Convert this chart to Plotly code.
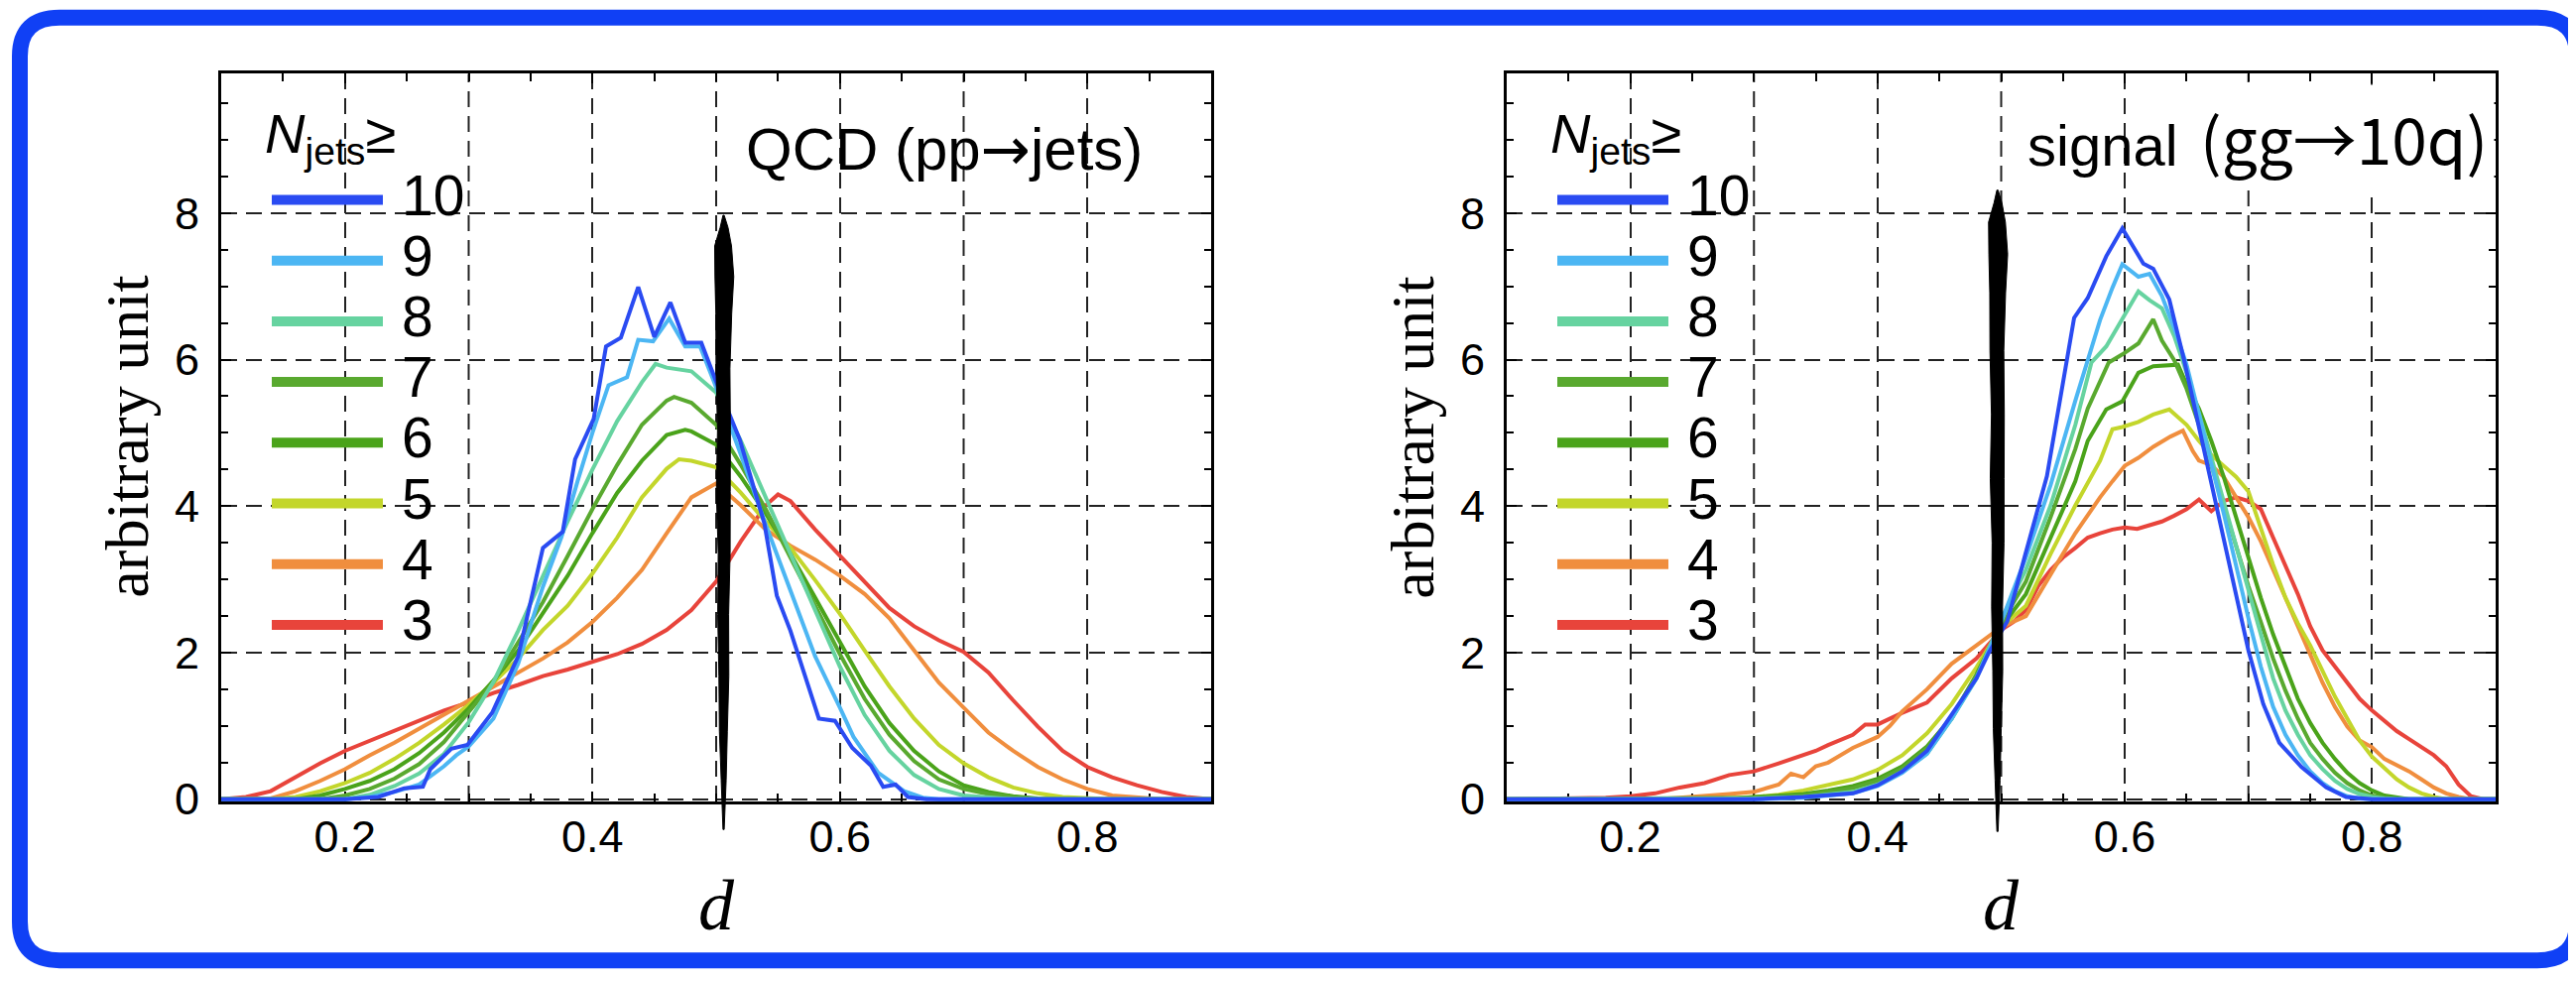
import plotly.graph_objects as go

# ---------------- data ----------------
N_JETS = [10, 9, 8, 7, 6, 5, 4, 3]
LINE_COLORS = ["#2A4BF2", "#4CB6F3", "#66D3A0", "#59A92F", "#4AA31A", "#C3D62B", "#F08E3E", "#E8443B"]

# QCD (pp -> jets)
QCD_X10 = [0.10, 0.20, 0.227, 0.248, 0.263, 0.269, 0.286, 0.299, 0.319, 0.34, 0.36, 0.376, 0.386, 0.401, 0.411, 0.423,
           0.437, 0.45, 0.463, 0.475, 0.488, 0.50, 0.519, 0.539, 0.549, 0.56, 0.583, 0.596, 0.61, 0.625, 0.635, 0.645,
           0.655, 0.67, 0.90]
QCD_Y10 = [0, 0, 0.03, 0.15, 0.17, 0.41, 0.69, 0.74, 1.18, 1.95, 3.43, 3.65, 4.64, 5.19, 6.18, 6.30,
           6.99, 6.31, 6.78, 6.23, 6.23, 5.70, 4.91, 3.76, 2.78, 2.30, 1.10, 1.07, 0.70, 0.46, 0.17, 0.20,
           0.03, 0, 0]
QCD_X9 = [0.10, 0.20, 0.22, 0.24, 0.26, 0.28, 0.29, 0.30, 0.32, 0.34, 0.36, 0.375, 0.388, 0.40, 0.413, 0.428, 0.437,
          0.449, 0.462, 0.475, 0.487, 0.498, 0.52, 0.54, 0.56, 0.58, 0.60, 0.611, 0.631, 0.652, 0.667, 0.68, 0.90]
QCD_Y9 = [0, 0, 0.03, 0.10, 0.20, 0.45, 0.60, 0.72, 1.10, 1.85, 2.90, 3.58, 4.34, 5.00, 5.65, 5.76, 6.27,
          6.25, 6.56, 6.18, 6.18, 5.71, 4.70, 3.75, 2.85, 1.95, 1.25, 0.85, 0.36, 0.11, 0.02, 0, 0]
QCD_X8 = [0.10, 0.12, 0.14, 0.16, 0.18, 0.20, 0.22, 0.24, 0.26, 0.28, 0.30, 0.32, 0.34, 0.36, 0.38, 0.40, 0.42, 0.44,
          0.451, 0.46, 0.48, 0.50, 0.52, 0.54, 0.56, 0.58, 0.60, 0.62, 0.64, 0.66, 0.68, 0.70, 0.72, 0.74, 0.76,
          0.78, 0.80, 0.82, 0.84, 0.86, 0.88, 0.90]
QCD_Y8 = [0, 0, 0, 0, 0, 0, 0.06, 0.18, 0.35, 0.62, 1.05, 1.60, 2.30, 3.05, 3.79, 4.50, 5.16, 5.69,
          5.94, 5.89, 5.84, 5.55, 4.89, 4.12, 3.35, 2.58, 1.81, 1.15, 0.66, 0.33, 0.14, 0.05, 0.02, 0, 0,
          0, 0, 0, 0, 0, 0, 0]
QCD_X7 = [0.10, 0.12, 0.14, 0.16, 0.18, 0.20, 0.22, 0.24, 0.26, 0.28, 0.30, 0.32, 0.34, 0.36, 0.38, 0.40, 0.42, 0.44,
          0.46, 0.466, 0.48, 0.50, 0.52, 0.54, 0.56, 0.58, 0.60, 0.62, 0.64, 0.66, 0.68, 0.70, 0.72, 0.74, 0.76,
          0.78, 0.80, 0.82, 0.84, 0.86, 0.88, 0.90]
QCD_Y7 = [0, 0, 0, 0, 0, 0.05, 0.14, 0.28, 0.48, 0.78, 1.18, 1.60, 2.14, 2.69, 3.32, 3.96, 4.56, 5.11,
          5.44, 5.49, 5.41, 5.11, 4.56, 3.96, 3.30, 2.64, 1.98, 1.37, 0.88, 0.52, 0.27, 0.14, 0.07, 0.03, 0,
          0, 0, 0, 0, 0, 0, 0]
QCD_X6 = [0.10, 0.12, 0.14, 0.16, 0.18, 0.20, 0.22, 0.24, 0.26, 0.28, 0.30, 0.32, 0.34, 0.36, 0.38, 0.40, 0.42, 0.44,
          0.46, 0.475, 0.48, 0.50, 0.52, 0.54, 0.56, 0.58, 0.60, 0.62, 0.64, 0.66, 0.68, 0.70, 0.72, 0.74, 0.76,
          0.78, 0.80, 0.82, 0.84, 0.86, 0.88, 0.90]
QCD_Y6 = [0, 0, 0, 0, 0.05, 0.14, 0.25, 0.41, 0.63, 0.91, 1.24, 1.62, 2.03, 2.53, 3.05, 3.63, 4.18, 4.62,
          4.97, 5.04, 5.02, 4.84, 4.40, 3.90, 3.35, 2.75, 2.14, 1.54, 1.04, 0.66, 0.38, 0.19, 0.10, 0.04, 0.01,
          0, 0, 0, 0, 0, 0, 0]
QCD_X5 = [0.10, 0.12, 0.14, 0.16, 0.18, 0.20, 0.22, 0.24, 0.26, 0.28, 0.30, 0.32, 0.34, 0.36, 0.38, 0.40, 0.42, 0.44,
          0.46, 0.47, 0.48, 0.50, 0.52, 0.54, 0.56, 0.58, 0.60, 0.62, 0.64, 0.66, 0.68, 0.70, 0.72, 0.74, 0.76,
          0.78, 0.80, 0.82, 0.84, 0.86, 0.88, 0.90]
QCD_Y5 = [0, 0, 0, 0.03, 0.11, 0.22, 0.36, 0.55, 0.77, 1.02, 1.29, 1.59, 1.92, 2.31, 2.64, 3.08, 3.57, 4.12,
          4.51, 4.64, 4.62, 4.53, 4.18, 3.79, 3.43, 2.99, 2.53, 2.03, 1.54, 1.10, 0.74, 0.49, 0.30, 0.16, 0.08,
          0.03, 0.01, 0, 0, 0, 0, 0]
QCD_X4 = [0.10, 0.12, 0.14, 0.16, 0.18, 0.20, 0.22, 0.24, 0.26, 0.28, 0.30, 0.32, 0.34, 0.36, 0.38, 0.40, 0.42, 0.44,
          0.46, 0.48, 0.50, 0.52, 0.54, 0.56, 0.58, 0.60, 0.62, 0.64, 0.66, 0.68, 0.70, 0.72, 0.74, 0.76, 0.78,
          0.80, 0.82, 0.84, 0.86, 0.88, 0.90]
QCD_Y4 = [0, 0, 0.01, 0.11, 0.25, 0.41, 0.60, 0.77, 0.96, 1.15, 1.35, 1.54, 1.73, 1.92, 2.14, 2.42, 2.75, 3.13,
          3.63, 4.12, 4.31, 4.01, 3.68, 3.46, 3.27, 3.05, 2.80, 2.47, 2.03, 1.59, 1.25, 0.91, 0.66, 0.44, 0.27,
          0.14, 0.05, 0.02, 0, 0, 0]
QCD_X3 = [0.10, 0.12, 0.14, 0.16, 0.18, 0.20, 0.22, 0.24, 0.26, 0.28, 0.30, 0.32, 0.34, 0.36, 0.38, 0.40, 0.42, 0.44,
          0.46, 0.48, 0.50, 0.52, 0.54, 0.55, 0.56, 0.58, 0.60, 0.62, 0.64, 0.66, 0.68, 0.70, 0.72, 0.74, 0.76,
          0.78, 0.80, 0.82, 0.84, 0.86, 0.88, 0.90]
QCD_Y3 = [0, 0.03, 0.11, 0.30, 0.49, 0.66, 0.80, 0.93, 1.07, 1.21, 1.32, 1.45, 1.56, 1.68, 1.77, 1.87, 1.98, 2.12,
          2.31, 2.58, 2.97, 3.52, 4.01, 4.16, 4.07, 3.68, 3.32, 2.97, 2.61, 2.36, 2.17, 2.01, 1.73, 1.35, 0.99,
          0.66, 0.44, 0.30, 0.19, 0.10, 0.03, 0]

# signal (gg -> 10q)
SIG_X10 = [0.10, 0.30, 0.34, 0.38, 0.40, 0.42, 0.44, 0.46, 0.48, 0.49, 0.505, 0.519, 0.537, 0.559, 0.57, 0.585,
           0.598, 0.615, 0.623, 0.636, 0.648, 0.661, 0.671, 0.687, 0.70, 0.712, 0.725, 0.743, 0.763, 0.779, 0.80, 0.90]
SIG_Y10 = [0, 0, 0.03, 0.08, 0.19, 0.38, 0.66, 1.15, 1.65, 2.00, 2.43, 3.31, 4.41, 6.57, 6.84, 7.41,
           7.79, 7.31, 7.24, 6.82, 5.99, 5.00, 4.23, 3.02, 2.03, 1.30, 0.77, 0.44, 0.16, 0.03, 0, 0]
SIG_X9 = [0.10, 0.30, 0.34, 0.38, 0.40, 0.42, 0.44, 0.46, 0.48, 0.50, 0.52, 0.54, 0.56, 0.57, 0.58, 0.59, 0.598,
          0.611, 0.62, 0.63, 0.64, 0.65, 0.66, 0.67, 0.68, 0.69, 0.70, 0.71, 0.72, 0.73, 0.74, 0.75, 0.76, 0.77,
          0.78, 0.79, 0.80, 0.90]
SIG_Y9 = [0, 0, 0.02, 0.08, 0.18, 0.36, 0.62, 1.10, 1.65, 2.42, 3.30, 4.29, 5.44, 5.99, 6.54, 6.98, 7.30,
          7.13, 7.17, 6.87, 6.43, 5.93, 5.27, 4.56, 3.90, 3.19, 2.47, 1.81, 1.26, 0.88, 0.60, 0.38, 0.22, 0.11,
          0.04, 0.01, 0, 0]
SIG_X8 = [0.10, 0.30, 0.34, 0.36, 0.38, 0.40, 0.42, 0.44, 0.46, 0.48, 0.50, 0.52, 0.54, 0.56, 0.573, 0.585, 0.60,
          0.611, 0.62, 0.63, 0.64, 0.65, 0.66, 0.67, 0.68, 0.69, 0.70, 0.71, 0.72, 0.73, 0.74, 0.75, 0.76, 0.77,
          0.78, 0.79, 0.80, 0.81, 0.82, 0.90]
SIG_Y8 = [0, 0.01, 0.03, 0.06, 0.10, 0.20, 0.38, 0.62, 1.10, 1.65, 2.45, 3.13, 4.01, 5.11, 5.96, 6.18, 6.60,
          6.93, 6.81, 6.70, 6.32, 5.82, 5.27, 4.67, 4.07, 3.46, 2.86, 2.25, 1.65, 1.21, 0.88, 0.60, 0.41, 0.25,
          0.14, 0.07, 0.03, 0.01, 0, 0]
SIG_X7 = [0.10, 0.30, 0.34, 0.36, 0.38, 0.40, 0.42, 0.44, 0.46, 0.48, 0.50, 0.52, 0.54, 0.56, 0.57, 0.587, 0.598,
          0.611, 0.623, 0.63, 0.64, 0.65, 0.66, 0.67, 0.68, 0.69, 0.70, 0.71, 0.72, 0.73, 0.74, 0.75, 0.76, 0.77,
          0.78, 0.79, 0.80, 0.81, 0.82, 0.90]
SIG_Y7 = [0, 0.02, 0.05, 0.10, 0.15, 0.25, 0.42, 0.70, 1.10, 1.70, 2.40, 2.97, 3.85, 4.78, 5.33, 5.96, 6.07,
          6.22, 6.55, 6.26, 5.99, 5.60, 5.11, 4.56, 4.01, 3.46, 2.91, 2.42, 1.92, 1.48, 1.10, 0.77, 0.55, 0.36,
          0.22, 0.12, 0.05, 0.02, 0, 0]
SIG_X6 = [0.10, 0.28, 0.30, 0.34, 0.36, 0.38, 0.40, 0.42, 0.44, 0.46, 0.48, 0.50, 0.52, 0.54, 0.56, 0.57, 0.585,
          0.598, 0.611, 0.623, 0.643, 0.65, 0.66, 0.67, 0.68, 0.69, 0.70, 0.71, 0.72, 0.73, 0.74, 0.75, 0.76,
          0.77, 0.78, 0.79, 0.80, 0.81, 0.82, 0.83, 0.90]
SIG_Y6 = [0, 0, 0.03, 0.07, 0.12, 0.18, 0.28, 0.45, 0.72, 1.12, 1.70, 2.35, 2.80, 3.57, 4.34, 4.89, 5.32,
          5.43, 5.82, 5.91, 5.93, 5.66, 5.33, 4.89, 4.40, 3.85, 3.30, 2.75, 2.25, 1.81, 1.37, 1.04, 0.77,
          0.55, 0.36, 0.22, 0.12, 0.05, 0.02, 0, 0]
SIG_X5 = [0.10, 0.26, 0.30, 0.32, 0.34, 0.36, 0.38, 0.40, 0.42, 0.44, 0.46, 0.48, 0.50, 0.52, 0.54, 0.56, 0.58,
          0.59, 0.598, 0.611, 0.623, 0.636, 0.65, 0.66, 0.67, 0.68, 0.69, 0.70, 0.71, 0.72, 0.73, 0.74, 0.75,
          0.76, 0.77, 0.78, 0.79, 0.80, 0.81, 0.82, 0.83, 0.84, 0.85, 0.86, 0.90]
SIG_Y5 = [0, 0, 0.03, 0.06, 0.12, 0.20, 0.27, 0.40, 0.60, 0.90, 1.30, 1.80, 2.35, 2.64, 3.35, 4.01, 4.62,
          5.05, 5.08, 5.15, 5.25, 5.32, 5.11, 4.89, 4.70, 4.55, 4.40, 4.20, 3.70, 3.20, 2.75, 2.40, 2.10,
          1.75, 1.40, 1.10, 0.80, 0.58, 0.42, 0.27, 0.16, 0.08, 0.03, 0, 0]
SIG_X4 = [0.10, 0.22, 0.24, 0.26, 0.28, 0.30, 0.32, 0.33, 0.34, 0.35, 0.36, 0.38, 0.40, 0.41, 0.42, 0.44, 0.46,
          0.48, 0.50, 0.52, 0.54, 0.55, 0.56, 0.58, 0.59, 0.60, 0.611, 0.623, 0.637, 0.647, 0.655, 0.66, 0.67,
          0.68, 0.69, 0.70, 0.71, 0.72, 0.73, 0.74, 0.75, 0.76, 0.77, 0.78, 0.79, 0.80, 0.81, 0.82, 0.83,
          0.84, 0.85, 0.86, 0.87, 0.88, 0.90]
SIG_Y4 = [0, 0, 0.02, 0.04, 0.07, 0.10, 0.20, 0.35, 0.30, 0.45, 0.50, 0.70, 0.85, 1.00, 1.20, 1.50, 1.85,
          2.10, 2.35, 2.50, 3.08, 3.35, 3.63, 4.12, 4.34, 4.55, 4.66, 4.81, 4.95, 5.03, 4.75, 4.62, 4.56,
          4.40, 4.12, 3.85, 3.52, 3.13, 2.75, 2.36, 1.98, 1.59, 1.26, 0.99, 0.80, 0.71, 0.55, 0.47, 0.38,
          0.27, 0.16, 0.08, 0.03, 0, 0]
SIG_X3 = [0.10, 0.16, 0.18, 0.20, 0.22, 0.24, 0.26, 0.28, 0.30, 0.32, 0.34, 0.35, 0.36, 0.38, 0.39, 0.40, 0.42,
          0.44, 0.46, 0.48, 0.50, 0.51, 0.52, 0.53, 0.54, 0.55, 0.56, 0.57, 0.58, 0.59, 0.60, 0.61, 0.62, 0.63,
          0.64, 0.65, 0.66, 0.67, 0.68, 0.69, 0.70, 0.71, 0.72, 0.73, 0.74, 0.75, 0.76, 0.77, 0.78, 0.79, 0.80,
          0.81, 0.82, 0.83, 0.84, 0.85, 0.86, 0.87, 0.88, 0.89, 0.90]
SIG_Y3 = [0, 0.01, 0.02, 0.04, 0.08, 0.16, 0.22, 0.33, 0.38, 0.49, 0.60, 0.66, 0.74, 0.88, 1.02, 1.02, 1.18,
          1.32, 1.65, 1.92, 2.31, 2.42, 2.58, 2.91, 3.13, 3.30, 3.43, 3.57, 3.63, 3.68, 3.71, 3.69, 3.74, 3.79,
          3.87, 3.96, 4.09, 3.93, 4.07, 4.12, 4.07, 3.96, 3.57, 3.19, 2.80, 2.36, 2.03, 1.81, 1.59, 1.37, 1.21,
          1.07, 0.93, 0.82, 0.71, 0.60, 0.45, 0.20, 0.04, 0, 0]

QCD_X = [QCD_X10, QCD_X9, QCD_X8, QCD_X7, QCD_X6, QCD_X5, QCD_X4, QCD_X3]
QCD_Y = [QCD_Y10, QCD_Y9, QCD_Y8, QCD_Y7, QCD_Y6, QCD_Y5, QCD_Y4, QCD_Y3]
SIG_X = [SIG_X10, SIG_X9, SIG_X8, SIG_X7, SIG_X6, SIG_X5, SIG_X4, SIG_X3]
SIG_Y = [SIG_Y10, SIG_Y9, SIG_Y8, SIG_Y7, SIG_Y6, SIG_Y5, SIG_Y4, SIG_Y3]

X_TICKS = [0.2, 0.4, 0.6, 0.8]
X_TICK_TEXT = ["0.2", "0.4", "0.6", "0.8"]
X_EXTRA_GRID = [0.3, 0.5, 0.7]
X_MINOR = [0.15, 0.25, 0.3, 0.35, 0.45, 0.5, 0.55, 0.65, 0.7, 0.75, 0.85]
Y_TICKS = [0, 2, 4, 6, 8]
Y_MINOR = [0.5, 1, 1.5, 2.5, 3, 3.5, 4.5, 5, 5.5, 6.5, 7, 7.5, 8.5, 9, 9.5]
MARK_X = [0.506, 0.497]   # hand-drawn vertical marks

# ---------------- layout helpers ----------------
W, H = 2597, 989
def px(x):
    return x / W
def py(y):
    return 1 - y / H

SANS = "Liberation Sans, Arial, sans-serif"
SERIF = "Liberation Serif, Times New Roman, serif"

PANELS = [
    dict(xa="x", ya="y", left=215, right=1213, X=QCD_X, Y=QCD_Y),
    dict(xa="x2", ya="y2", left=1511, right=2508, X=SIG_X, Y=SIG_Y),
]
TOP, BOTTOM = 68, 819
GRID = dict(color="#222", width=2, dash="16px,9px")

fig = go.Figure()
for p in PANELS:
    for k in reversed(range(len(N_JETS))):
        fig.add_trace(go.Scatter(
            x=p["X"][k], y=p["Y"][k], mode="lines", name=f"N≥{N_JETS[k]}",
            line=dict(color=LINE_COLORS[k], width=4), xaxis=p["xa"], yaxis=p["ya"],
            showlegend=False, hoverinfo="skip"))

def xaxis_cfg(left, right, anchor):
    return dict(
        domain=[px(left), px(right)], range=[0.1, 0.9], anchor=anchor,
        tickmode="array", tickvals=X_TICKS, ticktext=X_TICK_TEXT,
        ticks="inside", ticklen=10, tickwidth=2, tickcolor="black",
        showline=True, linecolor="black", linewidth=3, mirror="allticks",
        showgrid=True, gridcolor=GRID["color"], gridwidth=GRID["width"], griddash=GRID["dash"],
        zeroline=False, layer="below traces",
        tickfont=dict(family=SANS, size=45, color="black"), ticklabelstandoff=-6,
        minor=dict(tickmode="array", tickvals=X_MINOR, ticks="inside", ticklen=8,
                   tickwidth=2, tickcolor="black", showgrid=False),
    )

def yaxis_cfg(anchor):
    return dict(
        domain=[py(BOTTOM), py(TOP)], range=[-0.03, 9.9], anchor=anchor,
        tickmode="array", tickvals=Y_TICKS, ticktext=[str(v) for v in Y_TICKS],
        ticks="inside", ticklen=10, tickwidth=2, tickcolor="black",
        showline=True, linecolor="black", linewidth=3, mirror="allticks",
        showgrid=True, gridcolor=GRID["color"], gridwidth=GRID["width"], griddash=GRID["dash"],
        zeroline=False, layer="below traces",
        tickfont=dict(family=SANS, size=45, color="black"), ticklabelstandoff=10,
        minor=dict(tickmode="array", tickvals=Y_MINOR, ticks="inside", ticklen=7,
                   tickwidth=2, tickcolor="black", showgrid=False),
    )

annotations = []
shapes = []

LEG_Y0, LEG_DY = 198, 62.7
for i, p in enumerate(PANELS):
    off = p["left"] - 215
    # extra vertical dashed grid lines at the unlabeled tenths
    for gx in X_EXTRA_GRID:
        shapes.append(dict(type="line", xref=p["xa"], yref=p["ya"] + " domain",
                           x0=gx, x1=gx, y0=0, y1=1, layer="below",
                           line=dict(color=GRID["color"], width=GRID["width"], dash=GRID["dash"])))
    # axis titles
    annotations.append(dict(x=px(off + 120), y=py(443), xref="paper", yref="paper",
                            text="arbitrary unit", textangle=-90, showarrow=False,
                            font=dict(family=SERIF, size=62, color="black"),
                            xanchor="center", yanchor="middle"))
    annotations.append(dict(x=px(off + 714), y=py(927), xref="paper", yref="paper",
                            text="<i>d</i>", showarrow=False,
                            font=dict(family=SERIF, size=72, color="black"),
                            xanchor="center", yanchor="middle"))
    # legend title
    annotations.append(dict(x=px(off + 257), y=py(134), xref="paper", yref="paper",
                            text="<i>N</i><sub>jets</sub>≥", showarrow=False,
                            font=dict(family=SANS, size=56, color="black"),
                            xanchor="left", yanchor="middle"))
    # legend entries
    for k, n in enumerate(N_JETS):
        yy = LEG_Y0 + k * LEG_DY
        shapes.append(dict(type="line", xref="paper", yref="paper",
                           x0=px(off + 266), x1=px(off + 378), y0=py(yy), y1=py(yy),
                           line=dict(color=LINE_COLORS[k], width=10), layer="above"))
        annotations.append(dict(x=px(off + 395), y=py(yy - 5), xref="paper", yref="paper",
                                text=str(n), showarrow=False,
                                font=dict(family=SANS, size=57, color="black"),
                                xanchor="left", yanchor="middle"))

# panel titles
annotations.append(dict(x=px(944), y=py(145), xref="paper", yref="paper",
                        text="QCD (pp<span style='font-family:DejaVu Sans'>→</span>jets)", showarrow=False,
                        font=dict(family=SANS, size=60, color="black"),
                        xanchor="center", yanchor="middle"))
annotations.append(dict(x=px(2034), y=py(142), xref="paper", yref="paper",
                        text="signal", showarrow=False,
                        font=dict(family=SANS, size=58, color="black"),
                        xanchor="left", yanchor="middle"))
annotations.append(dict(x=px(2203), y=py(133), xref="paper", yref="paper",
                        text="(gg→10q)", showarrow=False, bgcolor="white", borderpad=6,
                        font=dict(family="Noto Sans CJK JP", size=64, color="black"),
                        xanchor="left", yanchor="middle"))

# hand-drawn vertical marks
PROFILE = [(0.00, 0.6), (0.02, 4.0), (0.05, 8.5), (0.10, 9.5), (0.16, 8.0), (0.25, 7.0), (0.35, 6.5),
           (0.45, 7.0), (0.55, 6.0), (0.65, 5.5), (0.75, 5.0), (0.84, 4.0), (0.92, 2.5), (1.00, 0.6)]
SKEW = [0.0, 0.5, -0.5, 0.8, 0.2, -0.6, 0.4, -0.3, 0.6, -0.4, 0.3, -0.2, 0.1, 0.0]
PX_PER_UNIT = 1248.0
for i, (xc, top, bot, xr) in enumerate([(MARK_X[0], 214, 848, "x"), (MARK_X[1], 188, 850, "x2")]):
    right_side = []
    left_side = []
    for (f, hw), s in zip(PROFILE, SKEW):
        yy = top + f * (bot - top)
        right_side.append((xc + (hw + s) / PX_PER_UNIT, py(yy)))
        left_side.append((xc - (hw - s) / PX_PER_UNIT, py(yy)))
    pts = right_side + left_side[::-1]
    path = "M " + " L ".join(f"{a:.5f},{b:.5f}" for a, b in pts) + " Z"
    shapes.append(dict(type="path", xref=xr, yref="paper", path=path,
                       fillcolor="black", line=dict(color="black", width=1), layer="above"))

# blue rounded frame around the picture
L, R, T, B, r = 12, 2590, 10, 983, 40
frame = (f"M {px(L + r)},{py(T)} L {px(R - r)},{py(T)} Q {px(R)},{py(T)} {px(R)},{py(T + r)} "
         f"L {px(R)},{py(B - r)} Q {px(R)},{py(B)} {px(R - r)},{py(B)} "
         f"L {px(L + r)},{py(B)} Q {px(L)},{py(B)} {px(L)},{py(B - r)} "
         f"L {px(L)},{py(T + r)} Q {px(L)},{py(T)} {px(L + r)},{py(T)} Z")
shapes.append(dict(type="path", xref="paper", yref="paper", path=frame,
                   line=dict(color="#1040F5", width=16), layer="above"))

fig.update_layout(
    width=W, height=H, margin=dict(l=0, r=0, t=0, b=0),
    paper_bgcolor="white", plot_bgcolor="white", showlegend=False,
    xaxis=xaxis_cfg(215, 1213, "y"), yaxis=yaxis_cfg("x"),
    xaxis2=xaxis_cfg(1511, 2508, "y2"), yaxis2=yaxis_cfg("x2"),
    annotations=annotations, shapes=shapes,
)

fig.write_html("out.html")
